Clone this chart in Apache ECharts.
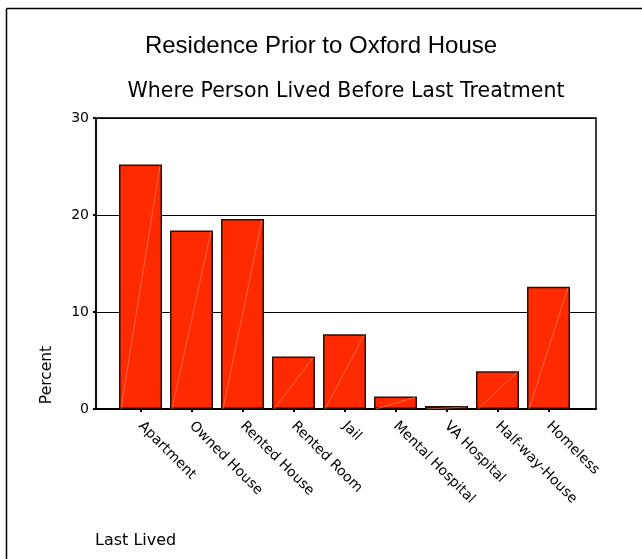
<!DOCTYPE html>
<html>
<head>
<meta charset="utf-8">
<title>Residence Prior to Oxford House</title>
<script src="https://cdn.jsdelivr.net/npm/echarts@6/dist/echarts.min.js"></script>
<style>
    html, body { margin: 0; padding: 0; background: #fff; }
    #chart { width: 642px; height: 559px; }
</style>
</head>
<body>
<div id="chart"></div>
<script>
// Chart data
const categories = ['Apartment', 'Owned House', 'Rented House', 'Rented Room', 'Jail',
    'Mental Hospital', 'VA Hospital', 'Half-way-House', 'Homeless'];
const percents = [25.2, 18.4, 19.6, 5.4, 7.7, 1.3, 0.3, 3.9, 12.6];
const yTicks = [0, 10, 20, 30];

const TITLE_FONT = '"Liberation Sans", sans-serif';
const FONT = '"DejaVu Sans", sans-serif';
const BAR_WIDTH = 43;

const chart = echarts.init(document.getElementById('chart'));

// Pale diagonal stroke drawn across each bar, corner to corner
function renderDiagonal(params, api) {
    const idx = api.value(0);
    const top = api.coord([idx, api.value(1)]);
    const base = api.coord([idx, 0]);
    const half = BAR_WIDTH / 2;
    return {
        type: 'line',
        shape: { x1: base[0] - half + 2, y1: base[1], x2: top[0] + half - 2, y2: top[1] + 1 },
        style: { stroke: 'rgba(255,150,120,0.7)', lineWidth: 0.8 }
    };
}

chart.setOption({
    backgroundColor: '#fff',
    animation: false,
    title: {
        text: 'Residence Prior to Oxford House',
        left: 'center', top: 29,
        textStyle: { fontFamily: TITLE_FONT, fontSize: 24, fontWeight: 'normal', color: '#000' }
    },
    grid: [
        // frame grid: y axis, gridlines, border
        { left: 96, right: 46, top: 118, bottom: 150, show: true, borderColor: '#000', borderWidth: 1.5, backgroundColor: 'transparent' },
        // bar grid: categories are inset from the frame
        { left: 115, right: 68, top: 118, bottom: 150 }
    ],
    xAxis: [
        {
            gridIndex: 0, type: 'value', min: 0, max: 1,
            axisLine: { show: true, lineStyle: { color: '#000', width: 2 } },
            axisTick: { show: false }, axisLabel: { show: false }, splitLine: { show: false }
        },
        {
            gridIndex: 1, type: 'category', data: categories,
            axisLine: { show: false },
            axisTick: { show: true, alignWithLabel: true, length: 3, lineStyle: { color: '#000', width: 2 } },
            axisLabel: {
                rotate: -45, margin: 15, interval: 0,
                fontFamily: FONT, fontSize: 14, color: '#000'
            }
        }
    ],
    yAxis: [
        {
            gridIndex: 0, type: 'value', min: 0, max: 30, interval: 10,
            axisLine: { show: true, lineStyle: { color: '#000', width: 1.5 } },
            axisTick: { show: true, length: 3, lineStyle: { color: '#000', width: 2 } },
            axisLabel: {
                margin: 7, fontFamily: FONT, fontSize: 14, color: '#000',
                formatter: v => yTicks.includes(v) ? String(v) : ''
            },
            splitLine: { show: true, lineStyle: { color: '#000', width: 1 } }
        },
        {
            gridIndex: 1, type: 'value', min: 0, max: 30, interval: 10,
            show: false, splitLine: { show: false }
        }
    ],
    series: [
        {
            type: 'bar',
            xAxisIndex: 1, yAxisIndex: 1,
            data: percents,
            barWidth: BAR_WIDTH,
            itemStyle: { color: '#ff2a00', borderColor: '#2b0e06', borderWidth: 1.5 },
            z: 2
        },
        {
            type: 'custom',
            xAxisIndex: 1, yAxisIndex: 1,
            data: percents.map((v, i) => [i, v]),
            renderItem: renderDiagonal,
            silent: true,
            z: 3
        }
    ],
    graphic: [
        // outer frame (left and top edges visible)
        { type: 'line', shape: { x1: 6.5, y1: 8.5, x2: 642, y2: 8.5 }, style: { stroke: '#000', lineWidth: 1.5 } },
        { type: 'line', shape: { x1: 6.5, y1: 8.5, x2: 6.5, y2: 559 }, style: { stroke: '#000', lineWidth: 1.5 } },
        // subtitle is centred over the plot area, not the page
        {
            type: 'text', x: 346, y: 92,
            style: { text: 'Where Person Lived Before Last Treatment', fontFamily: FONT, fontSize: 20.5, fill: '#000', align: 'center', verticalAlign: 'middle' }
        },
        {
            type: 'text', x: 47, y: 375, rotation: Math.PI / 2,
            style: { text: 'Percent', fontFamily: FONT, fontSize: 15.5, fill: '#000', align: 'center', verticalAlign: 'middle' }
        },
        {
            type: 'text', x: 95, y: 541,
            style: { text: 'Last Lived', fontFamily: FONT, fontSize: 16, fill: '#000', align: 'left', verticalAlign: 'middle' }
        }
    ]
});

window.addEventListener('resize', function() {
    chart.resize();
});
</script>
</body>
</html>
